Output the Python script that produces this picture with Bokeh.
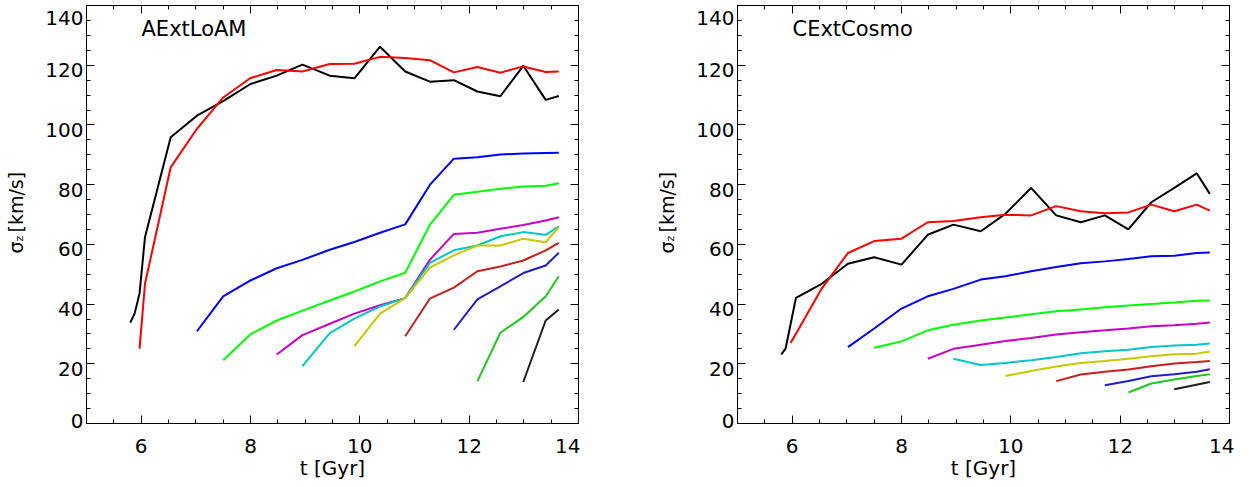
import math
import numpy as np
from bokeh.plotting import figure
from bokeh.models import FixedTicker, LinearAxis, Label, Range1d
from bokeh.layouts import row
from bokeh.core.properties import value
from bokeh.embed import file_html
from bokeh.resources import INLINE

N = None
# shared time grid [Gyr]
t_gyr = [5.80, 5.88, 5.97, 6.07, 6.54, 7.02, 7.50, 8.00, 8.48, 8.95, 9.45,
         9.90, 10.37, 10.83, 11.28, 11.72, 12.15, 12.57, 12.99, 13.40, 13.64]

# ---- AExtLoAM: sigma_z [km/s] of successive populations ----
a_black = [33.8, 36.8, 43.5, 62.4, 95.9, 103.1, 108.0, 113.7, 116.5, 120.2, 116.5,
           115.6, 126.2, 117.9, 114.5, 115.0, 111.2, 109.6, 119.8, 108.4, 109.7]
a_red = [N, N, 25.1, 46.8, 85.8, 98.7, 109.2, 115.7, 118.4, 117.9, 120.4,
         120.5, 122.8, 122.4, 121.7, 117.6, 119.4, 117.5, 119.6, 117.7, 117.9]
a_blue = [N, N, N, N, N, 30.9, 42.6, 47.9, 52.0, 54.8, 58.2,
          60.8, 63.9, 66.7, 79.9, 88.7, 89.2, 90.1, 90.4, 90.6, 90.7]
a_green = [N, N, N, N, N, N, 21.2, 29.9, 34.5, 37.8, 41.2,
           44.2, 47.6, 50.5, 66.5, 76.6, 77.6, 78.6, 79.4, 79.6, 80.5]
a_magenta = [N, N, N, N, N, N, N, N, 23.1, 29.6, 33.4,
             36.8, 39.6, 42.0, 54.8, 63.5, 63.9, 65.2, 66.5, 68.0, 69.1]
a_cyan = [N, N, N, N, N, N, N, N, N, 19.2, 30.3,
          35.1, 39.2, 42.0, 53.8, 58.0, 59.6, 62.7, 64.1, 63.2, 66.0]
a_yellow = [N, N, N, N, N, N, N, N, N, N, N,
            25.9, 36.8, 42.0, 52.2, 56.3, 59.6, 59.6, 61.9, 60.7, 65.8]
a_darkred = [N, N, N, N, N, N, N, N, N, N, N,
             N, N, 29.2, 41.8, 45.5, 51.0, 52.6, 54.6, 58.0, 60.5]
a_darkblue = [N, N, N, N, N, N, N, N, N, N, N,
              N, N, N, N, 31.4, 41.6, 45.9, 50.4, 52.9, 57.2]
a_green2 = [N, N, N, N, N, N, N, N, N, N, N,
            N, N, N, N, N, 14.1, 30.4, 35.7, 42.6, 49.3]
a_black2 = [N, N, N, N, N, N, N, N, N, N, N,
            N, N, N, N, N, N, N, 13.9, 34.5, 38.2]

# ---- CExtCosmo ----
c_black = [23.1, 25.1, N, 42.1, 46.8, 53.5, 55.7, 53.2, 63.2, 66.6, 64.4,
           70.2, 78.9, 69.7, 67.4, 69.7, 65.0, 74.1, 78.9, 83.8, 76.9]
c_red = [N, N, 27.0, 30.1, 45.2, 57.1, 61.1, 61.9, 67.4, 67.8, 69.1,
         69.9, 69.7, 72.8, 71.1, 70.4, 70.7, 73.3, 71.1, 73.3, 71.3]
c_blue = [N, N, N, N, N, 25.6, 31.8, 38.5, 42.6, 45.1, 48.2,
          49.3, 51.0, 52.4, 53.7, 54.3, 55.1, 56.0, 56.2, 57.1, 57.3]
c_green = [N, N, N, N, N, N, 25.4, 27.5, 31.2, 33.1, 34.5,
           35.5, 36.6, 37.6, 38.2, 38.9, 39.5, 40.0, 40.5, 41.1, 41.2]
c_magenta = [N, N, N, N, N, N, N, N, 21.7, 25.0, 26.4,
             27.6, 28.6, 29.8, 30.6, 31.2, 31.8, 32.6, 32.9, 33.4, 33.8]
c_cyan = [N, N, N, N, N, N, N, N, N, 21.7, 19.6,
          20.3, 21.2, 22.3, 23.5, 24.2, 24.7, 25.6, 26.1, 26.4, 26.8]
c_yellow = [N, N, N, N, N, N, N, N, N, N, N,
            15.9, 17.6, 19.1, 20.3, 20.9, 21.7, 22.5, 23.2, 23.4, 24.1]
c_darkred = [N, N, N, N, N, N, N, N, N, N, N,
             N, N, 14.2, 16.4, 17.3, 18.1, 19.2, 20.1, 20.6, 20.9]
c_darkblue = [N, N, N, N, N, N, N, N, N, N, N,
              N, N, N, N, 12.8, 14.2, 15.8, 16.5, 17.3, 18.2]
c_green2 = [N, N, N, N, N, N, N, N, N, N, N,
            N, N, N, N, N, 10.4, 13.4, 14.7, 15.9, 16.5]
c_black2 = [N, N, N, N, N, N, N, N, N, N, N,
            N, N, N, N, N, N, N, 11.5, N, 13.9]

line_colors = ["#000000", "#ff0000", "#0000ff", "#00ff00", "#c800c8", "#00c8c8",
               "#c8c800", "#c81e1e", "#1e1ec8", "#1ec81e", "#1e1e1e"]

x_major = [6, 8, 10, 12, 14]
y_major = [0, 20, 40, 60, 80, 100, 120, 140]
y_tick_text = ["0", "20", "40", "60", "80", "100", "120", "140"]
x_label_text = "t [Gyr]"
titles = ["AExtLoAM", "CExtCosmo"]

FONT = "DejaVu Sans"
FW, FH = 492, 418          # plot frame size in px
TOP = 5                    # frame top offset in px
XMIN, XMAX, YMIN, YMAX = 5, 14, 0, 140
S = FH / (YMAX - YMIN)     # px per km/s
LAB_H = 470


def dx(px):
    return XMIN + px * (XMAX - XMIN) / FW


def dy(px):
    return YMIN + px / S


def style_axis(ax, labels=True):
    ax.axis_line_color = "black"
    ax.axis_line_width = 1
    ax.major_tick_in = 8
    ax.major_tick_out = 0
    ax.minor_tick_in = 4
    ax.minor_tick_out = 0
    ax.major_tick_line_color = "black"
    ax.minor_tick_line_color = "black"
    if labels:
        ax.major_label_text_font = FONT
        ax.major_label_text_font_size = "20px"
        ax.major_label_text_color = "black"
    else:
        ax.major_label_text_color = None
        ax.major_label_text_font_size = "0px"
        ax.major_label_standoff = 0


def make_label_panel(width):
    """Left-hand strip holding the y tick labels and the y-axis title."""
    lab = figure(frame_width=width, frame_height=LAB_H,
                 x_range=Range1d(0, width),
                 y_range=Range1d(YMIN - (LAB_H - TOP - FH) / S, YMAX + TOP / S),
                 output_backend="svg", toolbar_location=None,
                 x_axis_location=None, y_axis_location=None,
                 min_border_left=0, min_border_right=0,
                 min_border_top=0, min_border_bottom=0)
    lab.xgrid.visible = False
    lab.ygrid.visible = False
    lab.outline_line_color = None
    # tick labels, right-aligned just left of the frame
    offs = [7 if v == YMAX else (-8 if v == YMIN else 0) for v in y_major]
    lab.text(x=[width - 1] * len(y_major), y=y_major, text=y_tick_text,
             y_offset=offs, text_font=value(FONT), text_font_size=value("20px"),
             text_color="black", text_align="right", text_baseline="middle")
    # y title: sigma_z [km/s]  (rotated)
    lab.text(x=[width - 69], y=[dy(175)], text=["σ"], angle=math.pi / 2,
             text_font=value(FONT), text_font_size=value("19px"), text_color="black",
             text_align="left", text_baseline="middle")
    lab.text(x=[width - 65], y=[dy(187)], text=["z"], angle=math.pi / 2,
             text_font=value(FONT), text_font_size=value("11px"), text_color="black",
             text_align="left", text_baseline="middle")
    lab.text(x=[width - 69], y=[dy(196)], text=["[km/s]"], angle=math.pi / 2,
             text_font=value(FONT), text_font_size=value("19px"), text_color="black",
             text_align="left", text_baseline="middle")
    return lab


def make_panel(title, series, border_right):
    p = figure(frame_width=FW, frame_height=FH,
               x_range=Range1d(XMIN, XMAX), y_range=Range1d(YMIN, YMAX),
               output_backend="svg", toolbar_location=None,
               min_border_left=2, min_border_right=border_right,
               min_border_top=TOP, min_border_bottom=40)
    p.xgrid.visible = False
    p.ygrid.visible = False
    p.outline_line_color = "black"

    for vals, col in zip(series, line_colors):
        xs = [t for t, v in zip(t_gyr, vals) if v is not None]
        ys = [v for v in vals if v is not None]
        p.line(xs, ys, line_color=col, line_width=2)

    x_minor = list(np.arange(5, 14.01, 0.5))
    y_minor = list(range(0, 141, 5))
    p.xaxis.ticker = FixedTicker(ticks=x_major, minor_ticks=x_minor)
    p.yaxis.ticker = FixedTicker(ticks=y_major, minor_ticks=y_minor)
    style_axis(p.xaxis[0])
    style_axis(p.yaxis[0], labels=False)
    p.xaxis.axis_label = x_label_text
    p.xaxis.axis_label_text_font = FONT
    p.xaxis.axis_label_text_font_size = "20px"
    p.xaxis.axis_label_text_font_style = "normal"
    p.xaxis.axis_label_text_color = "black"
    p.xaxis.axis_label_standoff = 0
    p.xaxis.major_label_standoff = 15

    top = LinearAxis(ticker=FixedTicker(ticks=x_major, minor_ticks=x_minor))
    style_axis(top, labels=False)
    p.add_layout(top, "above")
    right = LinearAxis(ticker=FixedTicker(ticks=y_major, minor_ticks=y_minor))
    style_axis(right, labels=False)
    p.add_layout(right, "right")

    p.add_layout(Label(x=dx(55), y=dy(395), text=title, text_font=FONT,
                       text_font_size="21px", text_color="black",
                       text_align="left", text_baseline="middle"))
    return p


lab1 = make_label_panel(84)
p1 = make_panel(titles[0], [a_black, a_red, a_blue, a_green, a_magenta, a_cyan,
                            a_yellow, a_darkred, a_darkblue, a_green2, a_black2], 2)
lab2 = make_label_panel(155)
p2 = make_panel(titles[1], [c_black, c_red, c_blue, c_green, c_magenta, c_cyan,
                            c_yellow, c_darkred, c_darkblue, c_green2, c_black2], 5)

layout = row(lab1, p1, lab2, p2)
open("out.html", "w").write(file_html(layout, INLINE))
